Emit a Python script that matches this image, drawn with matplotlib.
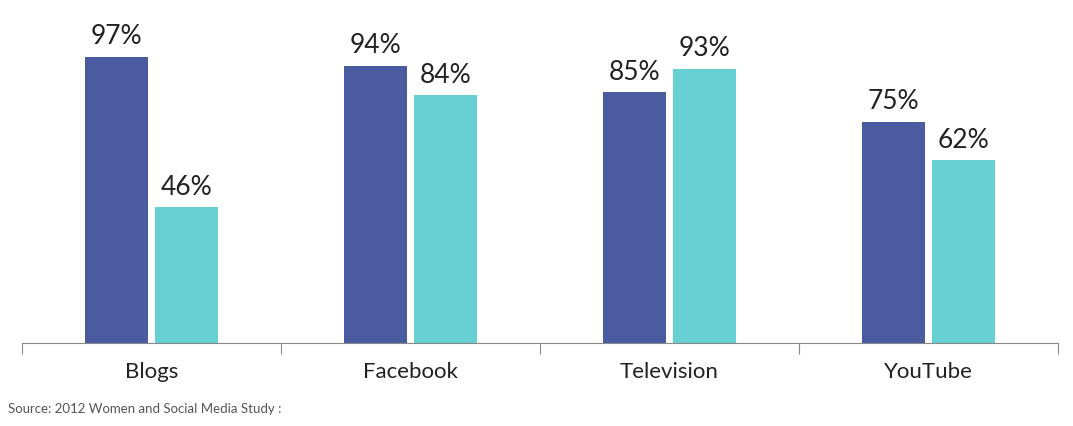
import matplotlib
matplotlib.use("Agg")
import matplotlib.pyplot as plt
import numpy as np

categories = ["Blogs", "Facebook", "Television", "YouTube"]
series_a = [97, 94, 85, 75]
series_b = [46, 84, 93, 62]

fig = plt.figure(figsize=(10.73, 4.26), dpi=100)
ax = fig.add_axes([0.0205, 0.195, 0.9655, 0.6925])
x = np.arange(len(categories))
w = 0.243
ba = ax.bar(x - 0.136, series_a, w, color="#4A5BA0")
bb = ax.bar(x + 0.134, series_b, w, color="#66D0D3")
for bars, vals in ((ba, series_a), (bb, series_b)):
    for r, v in zip(bars, vals):
        ax.text(r.get_x() + r.get_width() / 2, v + 2.5, f"{v}%", ha="center", va="bottom",
                fontsize=19, family="Lato", color="#222222")
ax.set_xlim(-0.5, 3.5)
ax.set_ylim(0, 100)
for s in ("top", "right", "left"):
    ax.spines[s].set_visible(False)
ax.spines["bottom"].set_color("#888888")
ax.set_yticks([])
ax.set_xticks([-0.5, 0.5, 1.5, 2.5, 3.5])
ax.set_xticklabels([])
ax.tick_params(axis="x", length=8, color="#888888", direction="out")
ax.set_xticks(x, minor=True)
ax.set_xticklabels(categories, minor=True, fontsize=16, family="Lato", color="#222222")
ax.tick_params(axis="x", which="minor", length=0, pad=14)
fig.text(0.007, 0.03, "Source: 2012 Women and Social Media Study :", fontsize=9.5,
         family="Lato", color="#555555")
fig.savefig("out.png", dpi=100)
